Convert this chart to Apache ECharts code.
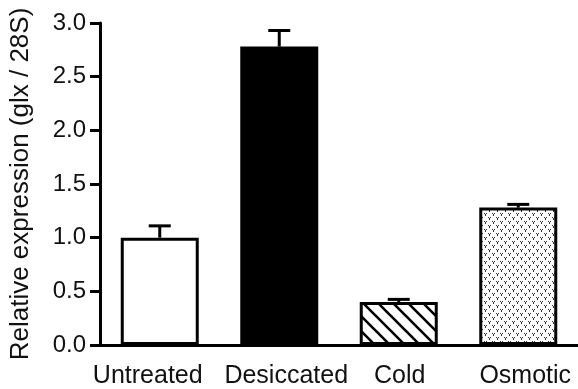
<!DOCTYPE html>
<html>
<head>
<meta charset="utf-8">
<script src="https://cdn.jsdelivr.net/npm/echarts@6/dist/echarts.min.js"></script>
<style>
  html, body { margin: 0; padding: 0; background: #fff; }
  #chart { width: 578px; height: 389px; }
</style>
</head>
<body>
<div id="chart"></div>
<script>
// Treatments and relative glx expression (normalised to 28S)
const categories = ['Untreated', 'Desiccated', 'Cold', 'Osmotic'];
const meanValues = [1.00, 2.78, 0.40, 1.28];
const errorTops = [1.11, 2.93, 0.425, 1.31];
const yTicks = [0, 0.5, 1.0, 1.5, 2.0, 2.5, 3.0];

const FONT = '"Liberation Sans", Arial, sans-serif';
const INK = '#111';

// Fill patterns drawn on small canvases
function hatchPattern() {
  const c = document.createElement('canvas');
  c.width = 15; c.height = 15;
  const g = c.getContext('2d');
  g.fillStyle = '#fff';
  g.fillRect(0, 0, 15, 15);
  g.strokeStyle = '#000';
  g.lineWidth = 2.6;
  g.beginPath();
  for (let k = -1; k <= 1; k++) {
    g.moveTo(k * 15 - 2, -2);
    g.lineTo(k * 15 + 17, 17);
  }
  g.stroke();
  return c;
}
function dotPattern() {
  const c = document.createElement('canvas');
  c.width = 8; c.height = 8;
  const g = c.getContext('2d');
  g.fillStyle = '#fff';
  g.fillRect(0, 0, 8, 8);
  g.fillStyle = '#333';
  const v = (x, y) => {
    g.fillRect(x, y, 1, 1);
    g.fillRect(x + 2, y, 1, 1);
    g.fillRect(x + 1, y + 1, 1, 2);
  };
  v(0, 1);
  v(4, 5);
  return c;
}

const fills = [
  '#fff',
  '#000',
  { image: hatchPattern(), repeat: 'repeat' },
  { image: dotPattern(), repeat: 'repeat' }
];

// Per-label horizontal nudges (px) for the category names
const labelNudge = [-12, 7, 1, 7];
const rich = {};
labelNudge.forEach((s, i) => {
  rich['c' + i] = {
    fontSize: 25, fontFamily: FONT, color: INK,
    padding: s < 0 ? [0, -2 * s, 0, 0] : [0, 0, 0, 2 * s]
  };
});

const chart = echarts.init(document.getElementById('chart'), null, { renderer: 'canvas' });

chart.setOption({
  animation: false,
  backgroundColor: '#fff',
  grid: { left: 96, right: 0, top: 23, bottom: 44, containLabel: false },
  xAxis: {
    type: 'category',
    data: categories,
    axisLine: { lineStyle: { color: '#000', width: 3 } },
    axisTick: { show: false },
    axisLabel: {
      margin: 19,
      interval: 0,
      formatter: (v, i) => '{c' + i + '|' + v + '}',
      rich: rich
    }
  },
  yAxis: {
    type: 'value',
    min: 0, max: 3, interval: 0.5,
    name: 'Relative expression (glx / 28S)',
    nameLocation: 'middle',
    nameGap: 66,
    nameTextStyle: { fontSize: 26, fontFamily: FONT, color: INK },
    axisLine: { show: true, lineStyle: { color: '#000', width: 3 } },
    axisTick: { show: true, length: 10, lineStyle: { color: '#000', width: 3 } },
    axisLabel: {
      margin: 14,
      fontSize: 24, fontFamily: FONT, color: INK,
      formatter: v => yTicks.indexOf(v) >= 0 ? v.toFixed(1) : ''
    },
    splitLine: { show: false }
  },
  series: [
    {
      type: 'bar',
      barWidth: 78,
      data: meanValues.map((v, i) => ({
        value: v,
        itemStyle: { color: fills[i], borderColor: '#000', borderWidth: 3 }
      })),
      z: 2
    },
    {
      type: 'custom',
      z: 3,
      data: categories.map((c, i) => [i, meanValues[i], errorTops[i]]),
      renderItem: (params, api) => {
        const base = api.coord([api.value(0), api.value(1)]);
        const top = api.coord([api.value(0), api.value(2)]);
        const half = 11;
        return {
          type: 'group',
          children: [
            { type: 'line', shape: { x1: base[0], y1: base[1], x2: top[0], y2: top[1] },
              style: { stroke: '#000', lineWidth: 3 } },
            { type: 'line', shape: { x1: top[0] - half, y1: top[1], x2: top[0] + half, y2: top[1] },
              style: { stroke: '#000', lineWidth: 3 } }
          ]
        };
      }
    }
  ]
});
</script>
</body>
</html>
